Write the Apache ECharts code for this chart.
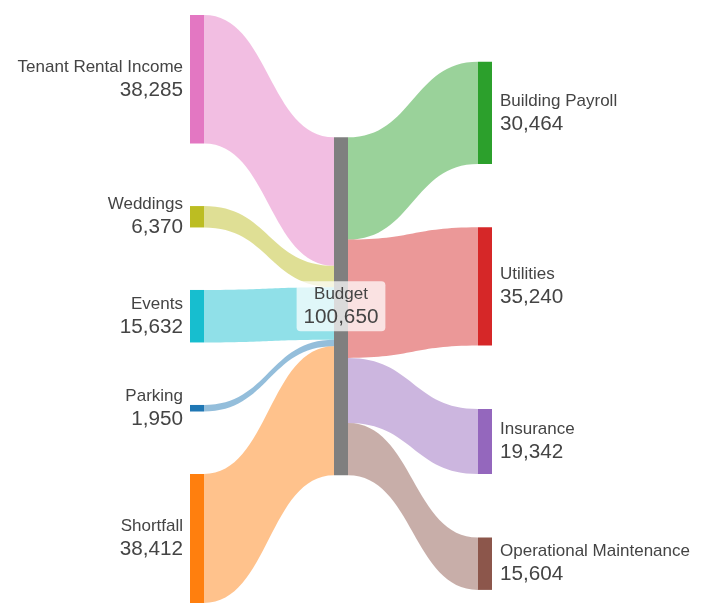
<!DOCTYPE html>
<html>
<head>
<meta charset="utf-8">
<script src="https://cdn.jsdelivr.net/npm/echarts@6/dist/echarts.min.js"></script>
<style>
html,body{margin:0;padding:0;background:#fff;}
#chart{width:708px;height:603px;}
</style>
</head>
<body>
<div id="chart"></div>
<script>
// ---- data ----
const incomeNames = ['Tenant Rental Income', 'Weddings', 'Events', 'Parking', 'Shortfall'];
const incomeValues = [38285, 6370, 15632, 1950, 38412];
const hubName = 'Budget';
const expenseNames = ['Building Payroll', 'Utilities', 'Insurance', 'Operational Maintenance'];
const expenseValues = [30464, 35240, 19342, 15604];

// ---- styles / layout (not data) ----
const incomeColors = ['#e377c2', '#bcbd22', '#17becf', '#1f77b4', '#ff7f0e'];
const hubColor = '#7f7f7f';
const expenseColors = ['#2ca02c', '#d62728', '#9467bd', '#8c564b'];
// node top positions as a ratio of the layout height (library's localY)
const hubLocalY = 0.208;
const expenseLocalY = [0.0794, 0.361, 0.670, 0.8886];

const FONT = '"Liberation Sans", Arial, sans-serif';
const fmt = v => Number(v).toLocaleString('en-US');
function rich(align) {
  return {
    n: {fontSize: 17, lineHeight: 22, color: '#444', fontFamily: FONT, align: align},
    v: {fontSize: 20.7, lineHeight: 24, color: '#444', fontFamily: FONT, align: align}
  };
}
const formatter = p => '{n|' + p.name + '}\n{v|' + fmt(p.value) + '}';

const nodes = [];
incomeNames.forEach((name, i) => {
  nodes.push({
    name: name,
    itemStyle: {color: incomeColors[i]},
    label: {position: 'left', distance: 7, align: 'right', rich: rich('right'), formatter: formatter}
  });
});
nodes.push({
  name: hubName,
  localY: hubLocalY,
  itemStyle: {color: hubColor},
  label: {
    position: 'inside', align: 'center', rich: rich('center'), formatter: formatter,
    backgroundColor: 'rgba(255,255,255,0.72)', borderRadius: 4, padding: [2, 7, 2, 7]
  }
});
expenseNames.forEach((name, i) => {
  nodes.push({
    name: name,
    localY: expenseLocalY[i],
    itemStyle: {color: expenseColors[i]},
    label: {position: 'right', distance: 8, align: 'left', rich: rich('left'), formatter: formatter}
  });
});

const links = [];
incomeNames.forEach((name, i) => {
  links.push({source: name, target: hubName, value: incomeValues[i], lineStyle: {color: incomeColors[i]}});
});
expenseNames.forEach((name, i) => {
  links.push({source: hubName, target: name, value: expenseValues[i], lineStyle: {color: expenseColors[i]}});
});

const chart = echarts.init(document.getElementById('chart'), null, {renderer: 'canvas'});
chart.setOption({
  animation: false,
  backgroundColor: '#ffffff',
  series: [{
    type: 'sankey',
    left: 190, right: 216, top: 15, bottom: 0,
    nodeWidth: 14,
    nodeGap: 62.5,
    layoutIterations: 0,
    draggable: false,
    emphasis: {disabled: true},
    itemStyle: {borderWidth: 0},
    lineStyle: {opacity: 0.48, curveness: 0.5},
    label: {show: true},
    data: nodes,
    links: links
  }]
});
</script>
</body>
</html>
